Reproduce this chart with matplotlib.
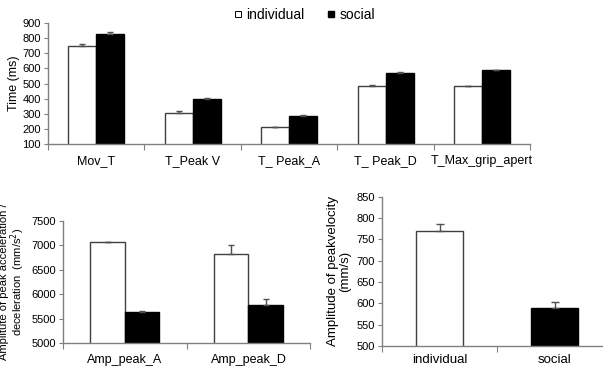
import matplotlib
matplotlib.use('Agg')
from matplotlib import pyplot as plt
from matplotlib.lines import Line2D
import numpy as np

plt.rcParams['font.family'] = ['Liberation Sans', 'DejaVu Sans']

# top panel: time measures
timeLabels = ['Mov_T', 'T_Peak V', 'T_ Peak_A', 'T_ Peak_D', 'T_Max_grip_apert']
timeIndividual = [750, 307, 210, 485, 485]
timeSocial = [830, 397, 287, 572, 588]
timeIndividualErr = [12, 8, 3, 8, 0]
timeSocialErr = [10, 6, 6, 6, 0]

# bottom left: peak acceleration / deceleration amplitude
ampLabels = ['Amp_peak_A', 'Amp_peak_D']
ampIndividual = [7070, 6830]
ampSocial = [5640, 5780]
ampIndividualErr = [5, 170]
ampSocialErr = [10, 130]

# bottom right: peak velocity amplitude
velLabels = ['individual', 'social']
velValues = [770, 590]
velErr = [17, 13]

GREY = '#808080'


def styleAxes(ax, n):
    for s in ['top', 'right']:
        ax.spines[s].set_visible(False)
    for s in ['left', 'bottom']:
        ax.spines[s].set_color(GREY)
        ax.spines[s].set_linewidth(1.0)
    ax.set_xticks(np.arange(n + 1) - 0.5)
    ax.set_xticklabels([])
    ax.set_xticks(np.arange(n), minor=True)
    ax.tick_params(axis='x', which='major', length=4, color=GREY, direction='out')
    ax.tick_params(axis='x', which='minor', length=0, labelsize=9, pad=8)
    ax.tick_params(axis='y', length=3, color=GREY, labelsize=8, pad=2)


def groupedBars(ax, labels, ind, soc, indErr, socErr, width):
    x = np.arange(len(labels))
    ek = dict(ecolor='#505050', capsize=2.5, elinewidth=1, capthick=1)
    ax.bar(x - width / 2, ind, width, color='white', edgecolor='#404040', linewidth=1,
           yerr=[np.zeros(len(ind)), indErr], error_kw=ek)
    ax.bar(x + width / 2, soc, width, color='black', edgecolor='black', linewidth=1,
           yerr=[np.zeros(len(soc)), socErr], error_kw=ek)
    styleAxes(ax, len(labels))
    ax.set_xticklabels(labels, minor=True)
    ax.set_xlim(-0.5, len(labels) - 0.5)


fig = plt.figure(figsize=(6.03, 3.73), dpi=100)

ax1 = fig.add_axes([0.0796, 0.614, 0.80, 0.324])
groupedBars(ax1, timeLabels, timeIndividual, timeSocial, timeIndividualErr, timeSocialErr, 0.29)
ax1.set_ylim(100, 900)
ax1.set_yticks(np.arange(100, 901, 100))
ax1.set_ylabel('Time (ms)', fontsize=9, labelpad=2)

ax2 = fig.add_axes([0.1045, 0.0804, 0.41, 0.327])
groupedBars(ax2, ampLabels, ampIndividual, ampSocial, ampIndividualErr, ampSocialErr, 0.28)
ax2.set_ylim(5000, 7500)
ax2.set_yticks(np.arange(5000, 7501, 500))
ax2.set_ylabel('Amplitute of peak acceleration /\ndeceleration  (mm/s$^2$)', fontsize=8,
               labelpad=3, linespacing=1.0)

ax3 = fig.add_axes([0.6335, 0.0724, 0.3665, 0.40])
x = np.arange(len(velLabels))
ax3.bar(x, velValues, 0.41, color=['white', 'black'], edgecolor=['#404040', 'black'], linewidth=1,
        yerr=[np.zeros(len(velValues)), velErr],
        error_kw=dict(ecolor='#505050', capsize=3, elinewidth=1, capthick=1))
styleAxes(ax3, len(velLabels))
ax3.set_xticklabels(velLabels, minor=True)
ax3.tick_params(axis='x', which='minor', pad=6, labelsize=9.5)
ax3.set_xlim(-0.5, 1.42)
ax3.set_ylim(500, 850)
ax3.set_yticks(np.arange(500, 851, 50))
ax3.set_ylabel('Amplitude of peakvelocity\n(mm/s)', fontsize=9.5, labelpad=4, linespacing=1.0)

handles = [Line2D([], [], marker='s', linestyle='none', markerfacecolor='white',
                  markeredgecolor='black', markersize=5, markeredgewidth=0.7),
           Line2D([], [], marker='s', linestyle='none', markerfacecolor='black',
                  markeredgecolor='black', markersize=5)]
fig.legend(handles, ['individual', 'social'], loc='center', bbox_to_anchor=(0.505, 0.96),
           ncol=2, frameon=False, fontsize=10, handletextpad=0.3, columnspacing=1.6,
           handlelength=0.6)

fig.savefig('out.png', dpi=100)
